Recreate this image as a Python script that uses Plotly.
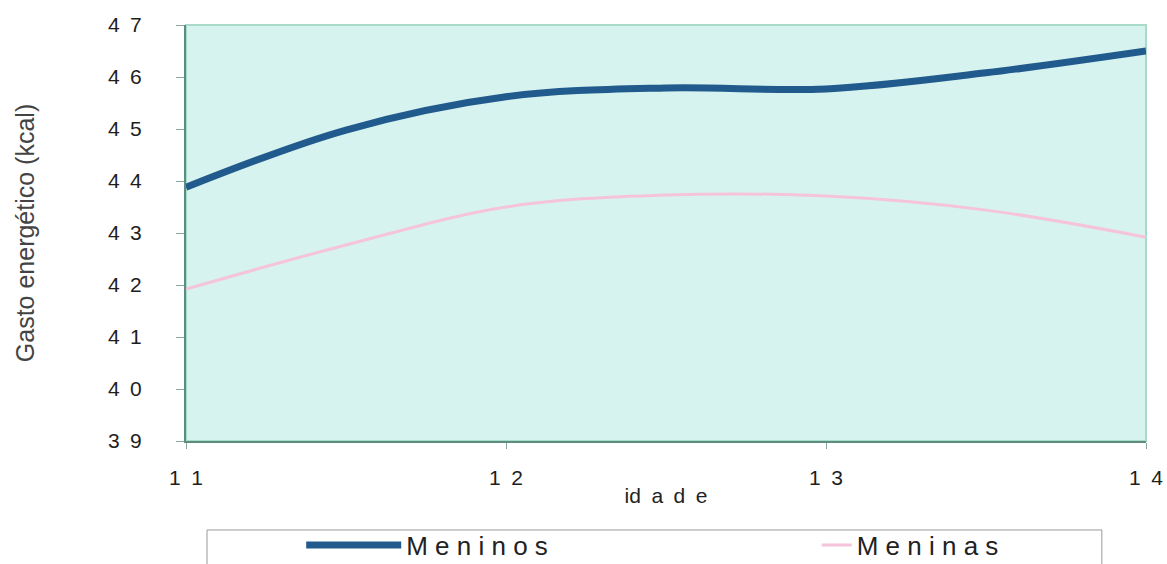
import plotly.graph_objects as go

ages = [11, 11.5, 12, 12.5, 13, 13.5, 14]
meninos = [43.88, 44.98, 45.62, 45.79, 45.77, 46.08, 46.50]
meninas = [41.92, 42.77, 43.50, 43.73, 43.71, 43.44, 42.92]

SP = "\u2002"
x_ticks = [11, 12, 13, 14]
x_ticktext = ["1" + SP + "1", "1" + SP + "2", "1" + SP + "3", "1" + SP + "4"]
y_ticks = [39, 40, 41, 42, 43, 44, 45, 46, 47]
y_ticktext = [str(v)[0] + SP + str(v)[1] for v in y_ticks]

FONT = "Liberation Sans, Arial, sans-serif"

fig = go.Figure()
fig.add_trace(go.Scatter(
    x=ages, y=meninos, mode="lines", name="M e n i n o s", legend="legend",
    line=dict(color="#215a8c", width=7, shape="spline", smoothing=1.0),
))
fig.add_trace(go.Scatter(
    x=ages, y=meninas, mode="lines", name="M e n i n a s", legend="legend2",
    line=dict(color="#f6c4da", width=3, shape="spline", smoothing=1.0),
))

leg_common = dict(
    orientation="h", yanchor="middle", y=-0.25, xanchor="left",
    bgcolor="rgba(0,0,0,0)", borderwidth=0,
    font=dict(family=FONT, size=26, color="#222222"),
)

fig.update_layout(
    width=1167, height=564,
    margin=dict(l=186, r=21, t=25, b=123, autoexpand=False),
    paper_bgcolor="white",
    plot_bgcolor="#d6f3ef",
    font=dict(family=FONT, size=21, color="#1e1e1e"),
    showlegend=True,
    legend=dict(x=0.12, itemwidth=95, **leg_common),
    legend2=dict(x=0.657, itemwidth=30, **leg_common),
    shapes=[
        dict(type="rect", xref="paper", yref="paper", x0=0, x1=1, y0=0, y1=1,
             line=dict(color="#a8dcc8", width=2), layer="below"),
        dict(type="rect", xref="paper", yref="paper", x0=0.0219, x1=0.954,
             y0=-0.2139, y1=-0.42, line=dict(color="#9a9a9a", width=1),
             fillcolor="rgba(0,0,0,0)", layer="below"),
    ],
)

fig.update_xaxes(
    range=[11, 14], tickvals=x_ticks, ticktext=x_ticktext,
    showgrid=False, zeroline=False,
    showline=True, linecolor="#5e8c80", linewidth=2,
    ticks="outside", ticklen=6, tickcolor="#8aa8a0",
    ticklabelstandoff=11,
    title=dict(text="id" + SP + "a" + SP + "d" + SP + "e", standoff=0,
               font=dict(size=21, color="#222222")),
)
fig.update_yaxes(
    range=[39, 47], tickvals=y_ticks, ticktext=y_ticktext,
    showgrid=False, zeroline=False,
    showline=True, linecolor="#5e8c80", linewidth=2,
    ticks="outside", ticklen=8, tickcolor="#8aa8a0",
    ticklabelstandoff=30,
    title=dict(text="Gasto energético (kcal)", standoff=66,
               font=dict(size=25, color="#444444")),
)

fig.write_html("out.html")
